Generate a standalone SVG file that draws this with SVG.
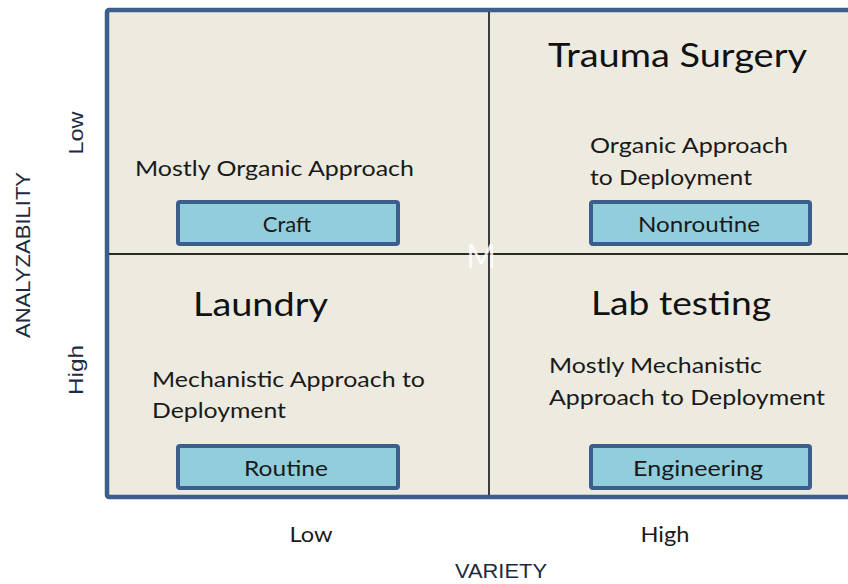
<svg xmlns="http://www.w3.org/2000/svg" width="848" height="584" viewBox="0 0 848 584">
<style>
.q{font-family:Lato,"Open Sans","Liberation Sans",sans-serif;fill:#1a1a1a;font-size:22px}
.t{font-family:Lato,"Open Sans","Liberation Sans",sans-serif;fill:#111;font-size:33px}
.ax{font-family:"Liberation Sans",Arial,sans-serif;fill:#1e2a40;font-size:20px}
.box{fill:#92cddc;stroke:#3b5e8c;stroke-width:4}
.bt{font-family:Lato,"Open Sans","Liberation Sans",sans-serif;fill:#1a1a1a;font-size:22px;text-anchor:middle}
</style>
<rect width="848" height="584" fill="#ffffff"/>
<g id="frame">
<rect x="107" y="10" width="780" height="487" rx="2" fill="#edeae0" stroke="#3b5e8c" stroke-width="4.5"/>
</g>
<g id="connectors" stroke="#2a2a2a" stroke-width="1.8">
<line x1="489" y1="12" x2="489" y2="495"/>
<line x1="109" y1="254" x2="848" y2="254"/>
</g>
<text x="481" y="268" font-family="Lato,'Open Sans',sans-serif" font-size="32" fill="#ffffff" fill-opacity="0.85" text-anchor="middle">M</text>
<g id="q-craft">
<text class="q" x="135" y="176" textLength="279" lengthAdjust="spacingAndGlyphs">Mostly Organic Approach</text>
<rect class="box" x="178" y="202" width="220" height="42" rx="2"/>
<text class="bt" x="287" y="232">Craft</text>
</g>
<g id="q-nonroutine">
<text class="t" x="548" y="67" textLength="259" lengthAdjust="spacingAndGlyphs">Trauma Surgery</text>
<text class="q" x="590" y="153" textLength="198" lengthAdjust="spacingAndGlyphs">Organic Approach</text>
<text class="q" x="590" y="185" textLength="162" lengthAdjust="spacingAndGlyphs">to Deployment</text>
<rect class="box" x="591" y="202" width="219" height="42" rx="2"/>
<text class="bt" x="699" y="232" textLength="122" lengthAdjust="spacingAndGlyphs">Nonroutine</text>
</g>
<g id="q-routine">
<text class="t" x="193" y="316" textLength="135" lengthAdjust="spacingAndGlyphs">Laundry</text>
<text class="q" x="152" y="387" textLength="273" lengthAdjust="spacingAndGlyphs">Mechanistic Approach to</text>
<text class="q" x="152" y="418" textLength="134" lengthAdjust="spacingAndGlyphs">Deployment</text>
<rect class="box" x="178" y="446" width="220" height="42" rx="2"/>
<text class="bt" x="286" y="476" textLength="84" lengthAdjust="spacingAndGlyphs">Routine</text>
</g>
<g id="q-engineering">
<text class="t" x="591" y="315" textLength="180" lengthAdjust="spacingAndGlyphs">Lab testing</text>
<text class="q" x="549" y="373" textLength="213" lengthAdjust="spacingAndGlyphs">Mostly Mechanistic</text>
<text class="q" x="549" y="405" textLength="276" lengthAdjust="spacingAndGlyphs">Approach to Deployment</text>
<rect class="box" x="591" y="446" width="219" height="42" rx="2"/>
<text class="bt" x="698" y="476" textLength="130" lengthAdjust="spacingAndGlyphs">Engineering</text>
</g>
<g id="axes">
<text class="q" x="311" y="542" text-anchor="middle" textLength="43" lengthAdjust="spacingAndGlyphs">Low</text>
<text class="q" x="665" y="542" text-anchor="middle" textLength="49" lengthAdjust="spacingAndGlyphs">High</text>
<text class="ax" x="501" y="578" text-anchor="middle" textLength="92" lengthAdjust="spacingAndGlyphs">VARIETY</text>
<text class="ax" transform="translate(30,255) rotate(-90)" text-anchor="middle" textLength="166" lengthAdjust="spacingAndGlyphs">ANALYZABILITY</text>
<text class="ax" transform="translate(83,133) rotate(-90)" text-anchor="middle" textLength="43" lengthAdjust="spacingAndGlyphs">Low</text>
<text class="ax" transform="translate(83,370) rotate(-90)" text-anchor="middle" textLength="50" lengthAdjust="spacingAndGlyphs">High</text>
</g>
</svg>
